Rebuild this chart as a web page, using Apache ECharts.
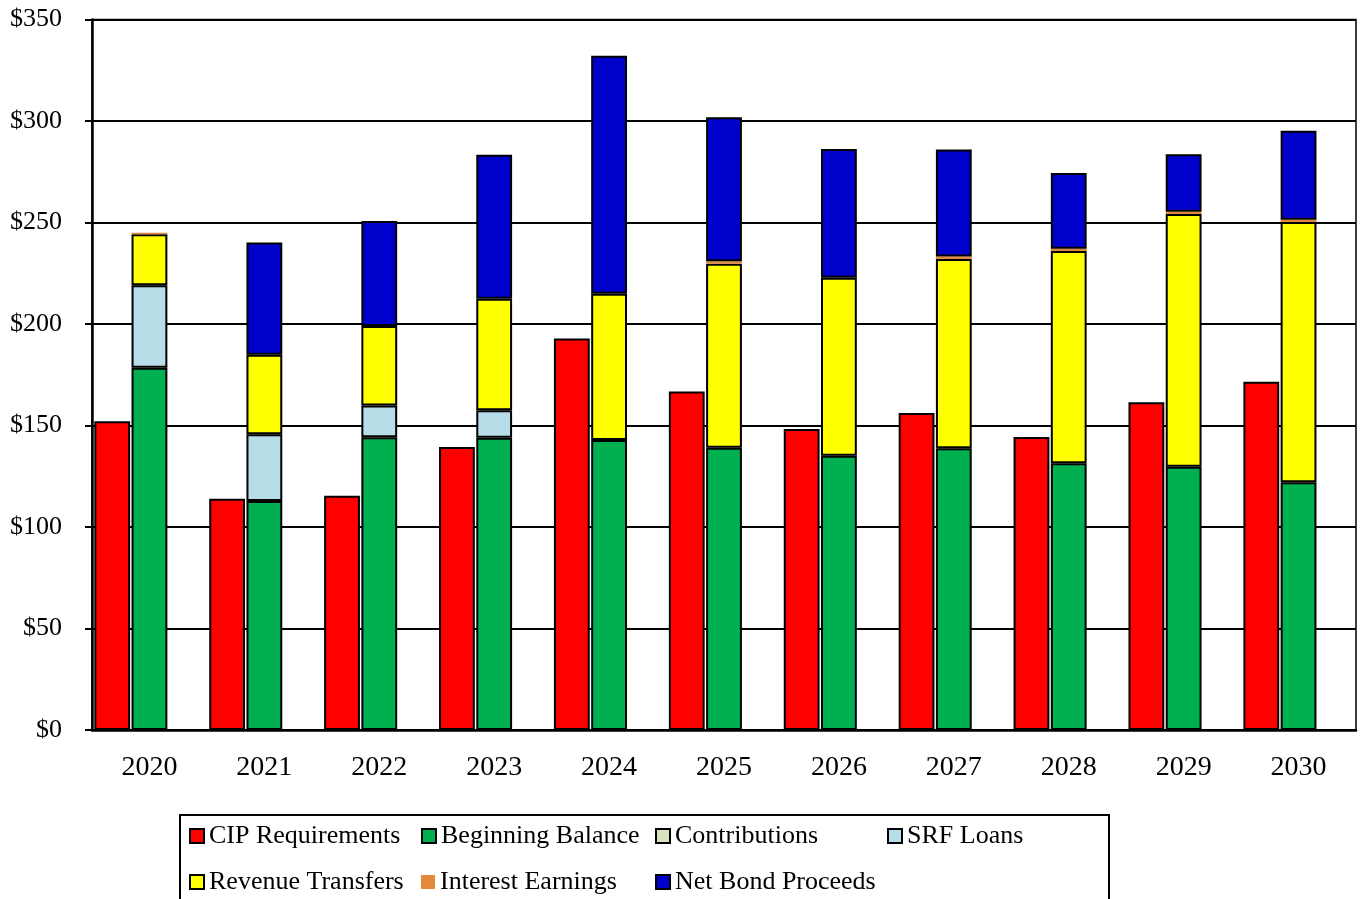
<!DOCTYPE html>
<html>
<head>
<meta charset="utf-8">
<script src="https://cdn.jsdelivr.net/npm/echarts@6/dist/echarts.min.js"></script>
<style>
  html, body { margin: 0; padding: 0; background: #fff; }
  #chart { width: 1363px; height: 899px; }
</style>
</head>
<body>
<div id="chart"></div>
<script>
// Capital funding sources vs. CIP requirements, $ millions
const years = ['2020', '2021', '2022', '2023', '2024', '2025', '2026', '2027', '2028', '2029', '2030'];
const cipRequirements  = [152.1, 113.9, 115.4, 139.4, 192.8, 166.7, 148.3, 156.2, 144.3, 161.4, 171.6];
const beginningBalance = [178.5, 112.8, 144.2, 144.0, 142.9, 139.1, 135.1, 138.8, 131.4, 129.7, 122.0];
const contributions    = [0, 0, 0, 0, 0, 0, 0, 0, 0, 0, 0];
const srfLoans         = [40.6, 32.9, 15.6, 13.5, 0, 0, 0, 0, 0, 0, 0];
const revenueTransfers = [25.1, 39.2, 39.2, 55.0, 72.0, 90.6, 87.7, 93.2, 104.6, 124.5, 128.2];
const interestEarnings = [0.8, 0, 0, 0, 0, 1.2, 0, 1.2, 1.1, 1.1, 1.2];
const netBondProceeds  = [0, 55.3, 51.7, 70.9, 117.3, 71.0, 63.4, 52.8, 37.3, 28.3, 43.8];
const yTicks = { min: 0, max: 350, step: 50 };

const FONT = "'Liberation Serif', 'Times New Roman', serif";
const blankZero = arr => arr.map(v => (v === 0 ? '-' : v));

function bar(name, stack, data, color, bordered) {
  return {
    name: name,
    type: 'bar',
    stack: stack,
    data: blankZero(data),
    barCategoryGap: '4%',
    barGap: '4%',
    itemStyle: {
      color: color,
      borderColor: bordered ? '#000' : color,
      borderWidth: bordered ? 2 : 0
    }
  };
}

const series = [
  bar('CIP Requirements', 'need', cipRequirements, '#FF0000', true),
  bar('Beginning Balance', 'sources', beginningBalance, '#00B050', true),
  bar('Contributions', 'sources', contributions, '#D7E4BD', true),
  bar('SRF Loans', 'sources', srfLoans, '#B7DDE8', true),
  bar('Revenue Transfers', 'sources', revenueTransfers, '#FFFF00', true),
  bar('Interest Earnings', 'sources', interestEarnings, '#E2893B', false),
  bar('Net Bond Proceeds', 'sources', netBondProceeds, '#0000CC', true),
  // spacer slot kept empty in every year
  { name: 'spacer', type: 'bar', stack: 'spacer', data: years.map(() => '-'), barCategoryGap: '4%', barGap: '4%' }
];

// one legend per entry so the entries sit in a fixed two-row grid
function legendItem(left, top, name) {
  return {
    left: left,
    top: top,
    itemWidth: 14,
    itemHeight: 14,
    icon: 'rect',
    selectedMode: false,
    padding: 0,
    textStyle: { fontFamily: FONT, fontSize: 26, color: '#000' },
    data: [name]
  };
}

const chart = echarts.init(document.getElementById('chart'), null, { renderer: 'canvas' });
chart.setOption({
  animation: false,
  backgroundColor: '#fff',
  grid: {
    left: 92, right: 7, top: 19.5, bottom: 169,
    show: true, borderColor: '#000', borderWidth: 1.5, backgroundColor: 'transparent'
  },
  xAxis: {
    type: 'category',
    data: years,
    axisLine: { lineStyle: { color: '#000', width: 2.5 } },
    axisTick: { show: false },
    axisLabel: { fontFamily: FONT, fontSize: 28, color: '#000', margin: 24 }
  },
  yAxis: {
    type: 'value',
    min: yTicks.min, max: yTicks.max, interval: yTicks.step,
    axisLine: { show: true, lineStyle: { color: '#000', width: 2.5 } },
    axisTick: { show: true, length: 7, lineStyle: { color: '#000', width: 2 } },
    splitLine: { lineStyle: { color: '#000', width: 2 } },
    axisLabel: {
      fontFamily: FONT, fontSize: 26, color: '#000', margin: 30,
      formatter: v => '$' + v
    }
  },
  legend: [
    legendItem(189, 823, 'CIP Requirements'),
    legendItem(421, 823, 'Beginning Balance'),
    legendItem(655, 823, 'Contributions'),
    legendItem(887, 823, 'SRF Loans'),
    legendItem(189, 869, 'Revenue Transfers'),
    legendItem(421, 869, 'Interest Earnings'),
    legendItem(655, 869, 'Net Bond Proceeds')
  ],
  graphic: [{
    type: 'rect',
    shape: { x: 180, y: 815, width: 929, height: 110 },
    style: { fill: 'none', stroke: '#000', lineWidth: 2 },
    silent: true
  }],
  series: series
});
</script>
</body>
</html>
